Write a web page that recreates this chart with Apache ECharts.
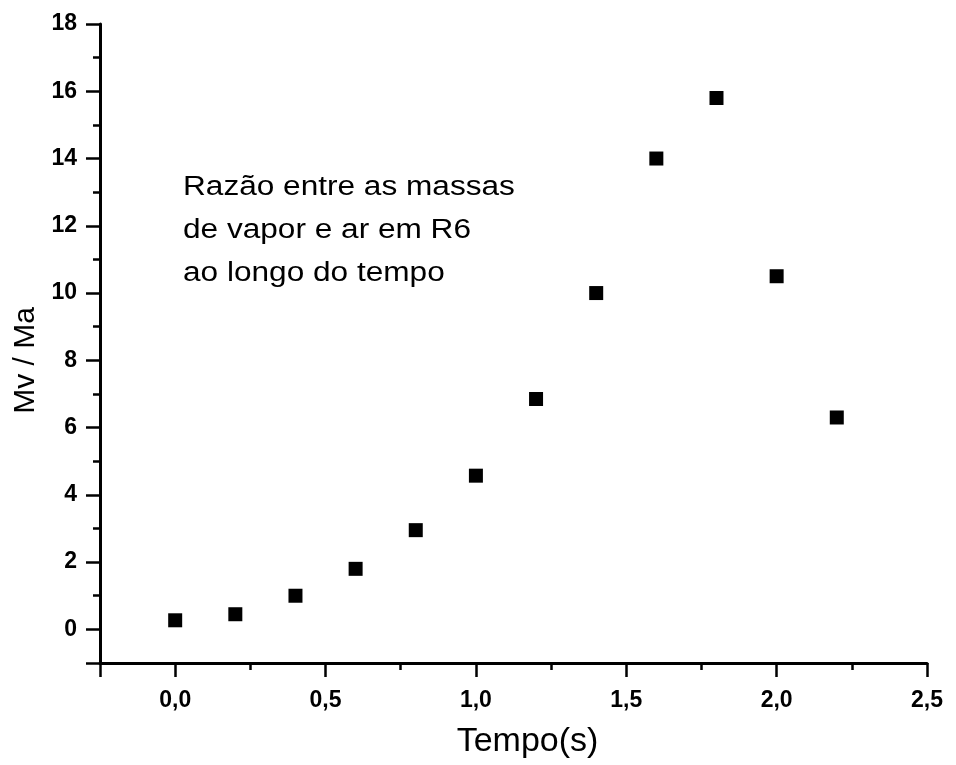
<!DOCTYPE html>
<html>
<head>
<meta charset="utf-8">
<script src="https://cdn.jsdelivr.net/npm/echarts@6/dist/echarts.min.js"></script>
<style>html,body{margin:0;padding:0;background:#fff}#c{width:956px;height:765px}</style>
</head>
<body>
<div id="c"></div>
<script>
const tempo = [0.0, 0.2, 0.4, 0.6, 0.8, 1.0, 1.2, 1.4, 1.6, 1.8, 2.0, 2.2];
const razao = [0.27, 0.45, 1.0, 1.8, 2.95, 4.57, 6.85, 10.0, 14.0, 15.8, 10.5, 6.3];
const xName = 'Tempo(s)';
const yName = 'Mv / Ma';
const noteLines = ['Razão entre as massas', 'de vapor e ar em R6', 'ao longo do tempo'];

const chart = echarts.init(document.getElementById('c'), null, {renderer: 'canvas'});
const font = '"Liberation Sans", Arial, sans-serif';
const isMult = (v, s) => Math.abs(v / s - Math.round(v / s)) < 1e-6;

chart.setOption({
  animation: false,
  backgroundColor: '#fff',
  grid: {left: 100, right: 29, top: 24, bottom: 102, containLabel: false},
  xAxis: {
    type: 'value', min: -0.25, max: 2.5, splitNumber: 6,
    name: xName, nameLocation: 'middle', nameGap: 62,
    nameTextStyle: {fontFamily: font, fontSize: 34, color: '#000', padding: [0, 0, 0, 28]},
    axisLine: {show: true, onZero: false, lineStyle: {color: '#000', width: 3}},
    axisTick: {show: true, inside: false, length: 14, lineStyle: {color: '#000', width: 2.5}},
    minorTick: {show: true, splitNumber: 2, length: 7, lineStyle: {color: '#000', width: 2.5}},
    splitLine: {show: false},
    axisLabel: {
      margin: 26, fontFamily: font, fontSize: 23, fontWeight: 'bold', color: '#000',
      formatter: v => isMult(v, 0.5) ? v.toFixed(1).replace('.', ',') : ''
    }
  },
  yAxis: {
    type: 'value', min: -1, max: 18, splitNumber: 9,
    name: yName, nameLocation: 'middle', nameGap: 58,
    nameTextStyle: {fontFamily: font, fontSize: 30, color: '#000', padding: [0, 34, 0, 0]},
    axisLine: {show: true, onZero: false, lineStyle: {color: '#000', width: 3}},
    axisTick: {show: true, inside: false, length: 14, lineStyle: {color: '#000', width: 2.5}},
    minorTick: {show: true, splitNumber: 2, length: 7, lineStyle: {color: '#000', width: 2.5}},
    splitLine: {show: false},
    axisLabel: {
      margin: 23, fontFamily: font, fontSize: 23, fontWeight: 'bold', color: '#000',
      formatter: v => isMult(v, 2) ? String(Math.round(v)) : ''
    }
  },
  series: [{
    type: 'scatter',
    symbol: 'rect',
    symbolSize: 14,
    itemStyle: {color: '#000', opacity: 1},
    data: tempo.map((t, i) => [t, razao[i]])
  }],
  graphic: [{
    type: 'text', left: 183, top: 166, scaleX: 1.17, scaleY: 1,
    style: {text: noteLines.join('\n'), font: '27px ' + font, fill: '#000', lineHeight: 43}
  }]
});
</script>
</body>
</html>
